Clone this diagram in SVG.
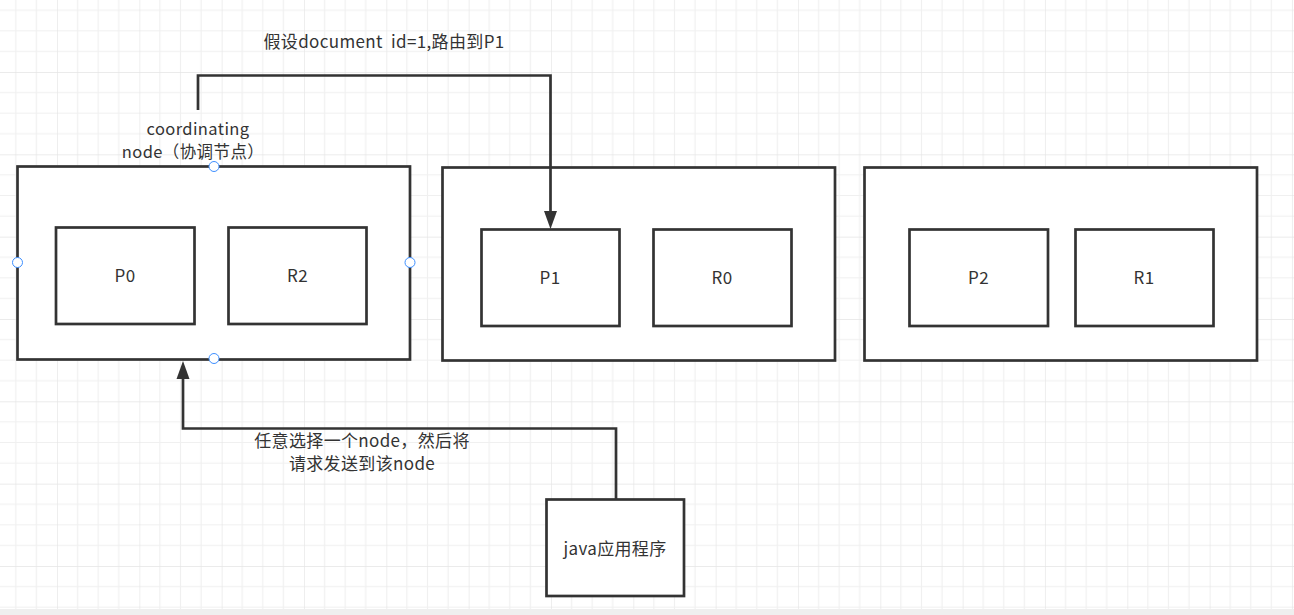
<svg xmlns="http://www.w3.org/2000/svg" width="1294" height="615" viewBox="0 0 1294 615">
<style>
.box{fill:#fff;stroke:#333;stroke-width:2.7}
.lbl{font-family:"Noto Sans CJK SC","Liberation Sans",sans-serif;font-size:17px;fill:#333;text-anchor:middle;letter-spacing:0.3px}
.cn{font-family:"Noto Sans CJK SC","Liberation Sans",sans-serif;font-size:17px;fill:#333;text-anchor:middle;letter-spacing:0.35px}
.sm{font-family:"Noto Sans CJK SC","Liberation Sans",sans-serif;font-size:16.5px;fill:#333;text-anchor:middle;letter-spacing:0.4px}
.edge{fill:none;stroke:#333;stroke-width:2.7}
.pt{fill:#fff;stroke:#3d8fff;stroke-width:1}
</style>
<defs>
<pattern id="grid" patternUnits="userSpaceOnUse" x="57" y="72" width="82.33" height="82.33">
<path d="M20.58 0V82.33M41.17 0V82.33M61.75 0V82.33M0 20.58H82.33M0 41.17H82.33M0 61.75H82.33" stroke="#f0f0f0" stroke-width="1.2" fill="none"/>
<path d="M0 0V82.33M0 0H82.33" stroke="#e5e5e5" stroke-width="1.3" fill="none"/>
</pattern>
</defs>
<rect width="1294" height="615" fill="#fff"/>
<rect width="1294" height="609" fill="url(#grid)"/>
<rect y="609" width="1294" height="6" fill="#efefef"/>

<g id="title">
<text class="cn" x="384" y="48" xml:space="preserve">假设document  id=1,路由到P1</text>
</g>

<g id="node1">
<rect class="box" x="17.5" y="166.5" width="392.5" height="193"/>
<text class="sm" x="198" y="135">coordinating</text>
<text class="sm" x="193" y="158">node（协调节点）</text>
</g>
<g id="p0">
<rect class="box" x="56" y="227.5" width="138.5" height="96.5"/>
<text class="lbl" x="125" y="282">P0</text>
</g>
<g id="r2">
<rect class="box" x="228.5" y="227.5" width="138" height="96.5"/>
<text class="lbl" x="297.5" y="282">R2</text>
</g>

<g id="node2">
<rect class="box" x="442.5" y="167.5" width="392.5" height="193"/>
</g>
<g id="p1">
<rect class="box" x="481.5" y="229.5" width="138" height="96.5"/>
<text class="lbl" x="550" y="284">P1</text>
</g>
<g id="r0">
<rect class="box" x="653.5" y="229.5" width="138" height="96.5"/>
<text class="lbl" x="722" y="284">R0</text>
</g>

<g id="node3">
<rect class="box" x="864.5" y="167.5" width="392.5" height="193"/>
</g>
<g id="p2">
<rect class="box" x="909.5" y="229.5" width="138.5" height="96.5"/>
<text class="lbl" x="978.5" y="284">P2</text>
</g>
<g id="r1">
<rect class="box" x="1075.5" y="229.5" width="138" height="96.5"/>
<text class="lbl" x="1144" y="284">R1</text>
</g>

<g id="java">
<rect class="box" x="546.5" y="499.5" width="137.5" height="96.5"/>
<text class="cn" x="615" y="555">java应用程序</text>
</g>

<g id="connectors">
<path class="edge" d="M198 110V75.5H550.5V214"/>
<path d="M544 211L550.5 229L557 211Z" fill="#333"/>
<path class="edge" d="M616 499V428.5H183V378"/>
<path d="M176.5 379L183 361L189.5 379Z" fill="#333"/>
<text class="cn" x="362" y="447">任意选择一个node，然后将</text>
<text class="cn" x="362" y="470">请求发送到该node</text>
</g>

<g id="handles">
<circle class="pt" cx="214" cy="166.5" r="5"/>
<circle class="pt" cx="17.5" cy="262.5" r="5"/>
<circle class="pt" cx="410" cy="262.5" r="5"/>
<circle class="pt" cx="214" cy="358.5" r="5"/>
</g>
</svg>
